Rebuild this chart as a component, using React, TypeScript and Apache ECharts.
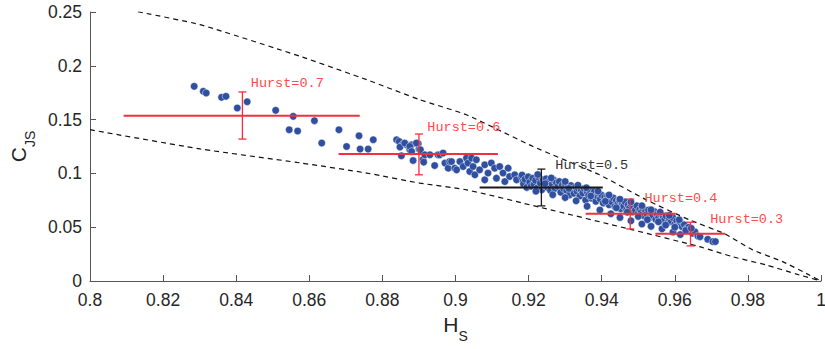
import React, { useEffect, useRef } from "react";
import * as echarts from "echarts";

// ---- data ----
const xTicks = [0.8, 0.82, 0.84, 0.86, 0.88, 0.9, 0.92, 0.94, 0.96, 0.98, 1];
const yTicks = [0, 0.05, 0.1, 0.15, 0.2, 0.25];

const scatterPoints: [number, number][] = [
  [0.8285, 0.1809], [0.8310, 0.1763], [0.8318, 0.1747], [0.8360, 0.1707], [0.8372, 0.1716],
  [0.8403, 0.1608], [0.8430, 0.1666], [0.8508, 0.1586], [0.8556, 0.1530], [0.8545, 0.1406],
  [0.8568, 0.1394], [0.8614, 0.1490], [0.8681, 0.1406], [0.8634, 0.1282], [0.8702, 0.1250],
  [0.8736, 0.1350], [0.8775, 0.1313], [0.8739, 0.1226], [0.8761, 0.1226],
  [0.8839, 0.1313], [0.8846, 0.1297], [0.8857, 0.1275], [0.8848, 0.1245], [0.8866, 0.1266],
  [0.8875, 0.1220], [0.8880, 0.1266], [0.8852, 0.1164], [0.8884, 0.1120], [0.8898, 0.1275],
  [0.8900, 0.1226], [0.8893, 0.1282], [0.8861, 0.1282], [0.8875, 0.1251], [0.8880, 0.1204],
  [0.8904, 0.1220], [0.8911, 0.1127], [0.8913, 0.1105], [0.8916, 0.1173], [0.8930, 0.1173],
  [0.8943, 0.1073], [0.8952, 0.1173], [0.8957, 0.1173], [0.8966, 0.1189], [0.8971, 0.1096],
  [0.8980, 0.1049], [0.8984, 0.1110], [0.8989, 0.1110], [0.8998, 0.1049], [0.9003, 0.1033],
  [0.9012, 0.1110], [0.9021, 0.1064], [0.9030, 0.1142], [0.9034, 0.1096], [0.9039, 0.1018],
  [0.9044, 0.1142], [0.9048, 0.1064], [0.9053, 0.0987], [0.9057, 0.1127], [0.9066, 0.1033],
  [0.9080, 0.1080], [0.9080, 0.0940], [0.9089, 0.1003], [0.9098, 0.1096], [0.9107, 0.1049],
  [0.9112, 0.0956], [0.9121, 0.1064], [0.9130, 0.1003], [0.9135, 0.0924], [0.9144, 0.1049],
  [0.9148, 0.0971], [0.9162, 0.0987], [0.9167, 0.0940], [0.9180, 0.0971], [0.9185, 0.0924],
  [0.9194, 0.0956], [0.9198, 0.0894],
  [0.9182, 0.0985], [0.9186, 0.0902], [0.9190, 0.0945], [0.9195, 0.0870], [0.9199, 0.0968],
  [0.9203, 0.0918], [0.9207, 0.0880], [0.9211, 0.0955], [0.9215, 0.0897], [0.9219, 0.0935],
  [0.9223, 0.0862], [0.9228, 0.0962], [0.9232, 0.0910], [0.9236, 0.0848], [0.9240, 0.0940],
  [0.9244, 0.0885], [0.9248, 0.0950], [0.9252, 0.0868], [0.9256, 0.0925], [0.9260, 0.0840],
  [0.9264, 0.0902], [0.9268, 0.0940], [0.9272, 0.0860], [0.9276, 0.0912], [0.9280, 0.0878],
  [0.9284, 0.0925], [0.9288, 0.0825], [0.9292, 0.0890], [0.9296, 0.0858], [0.9300, 0.0905],
  [0.9304, 0.0842], [0.9308, 0.0872], [0.9312, 0.0800], [0.9316, 0.0888], [0.9320, 0.0852],
  [0.9324, 0.0815], [0.9328, 0.0872], [0.9332, 0.0835], [0.9336, 0.0860], [0.9340, 0.0790],
  [0.9344, 0.0845], [0.9348, 0.0818], [0.9352, 0.0860], [0.9356, 0.0752], [0.9360, 0.0828],
  [0.9364, 0.0798], [0.9368, 0.0840], [0.9372, 0.0770], [0.9376, 0.0810], [0.9380, 0.0832],
  [0.9384, 0.0740], [0.9388, 0.0790], [0.9392, 0.0815], [0.9396, 0.0762], [0.9400, 0.0798],
  [0.9404, 0.0725], [0.9408, 0.0778], [0.9412, 0.0750], [0.9416, 0.0790], [0.9420, 0.0708],
  [0.9424, 0.0762], [0.9428, 0.0735], [0.9432, 0.0772], [0.9436, 0.0692], [0.9440, 0.0748],
  [0.9444, 0.0715], [0.9448, 0.0752], [0.9452, 0.0672], [0.9456, 0.0725], [0.9460, 0.0695],
  [0.9464, 0.0735], [0.9468, 0.0660], [0.9472, 0.0708], [0.9476, 0.0678], [0.9480, 0.0718],
  [0.9484, 0.0642], [0.9488, 0.0690], [0.9492, 0.0660], [0.9496, 0.0700], [0.9500, 0.0630],
  [0.9504, 0.0665], [0.9508, 0.0640], [0.9512, 0.0678], [0.9516, 0.0605], [0.9520, 0.0652],
  [0.9524, 0.0622], [0.9528, 0.0660], [0.9532, 0.0590], [0.9536, 0.0635], [0.9540, 0.0608],
  [0.9544, 0.0645], [0.9548, 0.0572], [0.9552, 0.0618], [0.9556, 0.0590], [0.9560, 0.0625],
  [0.9564, 0.0558], [0.9568, 0.0598], [0.9572, 0.0570], [0.9576, 0.0605], [0.9580, 0.0540],
  [0.9585, 0.0580], [0.9590, 0.0552], [0.9595, 0.0588], [0.9600, 0.0528],
  [0.9605, 0.0560], [0.9610, 0.0525], [0.9615, 0.0545], [0.9620, 0.0505], [0.9626, 0.0522],
  [0.9632, 0.0488], [0.9638, 0.0500], [0.9643, 0.0468], [0.9649, 0.0444], [0.9655, 0.0458],
  [0.9663, 0.0419], [0.9669, 0.0412], [0.9690, 0.0388], [0.9704, 0.0366], [0.9711, 0.0366],
  [0.9225, 0.0990], [0.9262, 0.0958], [0.9300, 0.0925], [0.9335, 0.0890], [0.9358, 0.0866],
  [0.9390, 0.0835], [0.9420, 0.0800], [0.9450, 0.0760], [0.9480, 0.0735], [0.9510, 0.0700],
  [0.9535, 0.0662], [0.9560, 0.0640], [0.9585, 0.0610], [0.9612, 0.0570],
  [0.9220, 0.0835], [0.9266, 0.0802], [0.9300, 0.0775], [0.9330, 0.0745], [0.9360, 0.0695],
  [0.9395, 0.0660], [0.9425, 0.0625], [0.9450, 0.0590], [0.9480, 0.0560], [0.9510, 0.0530],
  [0.9535, 0.0508], [0.9565, 0.0485], [0.9595, 0.0455], [0.9615, 0.0432],
  [0.9245, 0.0905], [0.9310, 0.0860], [0.9370, 0.0790], [0.9410, 0.0740], [0.9440, 0.0680],
  [0.9470, 0.0640], [0.9500, 0.0600], [0.9525, 0.0570], [0.9555, 0.0550], [0.9575, 0.0520],
  [0.9600, 0.0500], [0.9630, 0.0470], [0.9645, 0.0490],
];

const upperCurve: [number, number][] = [
  [0.8131, 0.2502], [0.8301, 0.2383], [0.8575, 0.2088], [0.8757, 0.1871], [0.8902, 0.1685],
  [0.9030, 0.1545], [0.9212, 0.1250], [0.9394, 0.0987], [0.9522, 0.0754], [0.9640, 0.0568],
  [0.9736, 0.0440], [0.9813, 0.0289], [0.9895, 0.0180], [0.9968, 0.0056], [1.0, 0.0],
];

const lowerCurve: [number, number][] = [
  [0.8, 0.1406], [0.8301, 0.1228], [0.8575, 0.1098], [0.8757, 0.1003], [0.8902, 0.0910],
  [0.9030, 0.0847], [0.9230, 0.0686], [0.9485, 0.0475], [0.9667, 0.0319], [0.9758, 0.0226],
  [0.9850, 0.0149], [0.9941, 0.0056], [1.0, 0.0],
];

const hurstLabels = ["Hurst=0.7", "Hurst=0.6", "Hurst=0.5", "Hurst=0.4", "Hurst=0.3"];
const centerH = [0.8417, 0.8900, 0.9235, 0.9478, 0.9643];
const centerC = [0.1536, 0.1180, 0.0869, 0.0624, 0.0440];
const hLow = [0.8092, 0.8680, 0.9066, 0.9356, 0.9547];
const hHigh = [0.8738, 0.9116, 0.9403, 0.9602, 0.9738];
const cLow = [0.1319, 0.0987, 0.0698, 0.0484, 0.0326];
const cHigh = [0.1757, 0.1366, 0.1040, 0.0761, 0.0546];
const labelH = [0.8440, 0.8923, 0.9273, 0.9517, 0.9697];
const labelC = [0.1834, 0.1422, 0.1071, 0.0770, 0.0574];
const barColors = ["#f0303c", "#f0303c", "#1a1a1a", "#f0303c", "#f0303c"];
const labelColors = ["#ff4a4a", "#ff4a4a", "#333333", "#ff4a4a", "#ff4a4a"];

export default function App() {
  const ref = useRef<HTMLDivElement>(null);

  useEffect(() => {
    if (!ref.current) return;
    const chart = echarts.init(ref.current, null, { renderer: "svg" });

    const errData = centerH.map((h, i) => [h, centerC[i], hLow[i], hHigh[i], cLow[i], cHigh[i], labelH[i], labelC[i]]);

    const axisFont = "'Liberation Sans', Arial, Helvetica, sans-serif";

    const option: any = {
      animation: false,
      backgroundColor: "#ffffff",
      grid: { left: 90, right: 4, top: 12, bottom: 68, containLabel: false, outerBoundsMode: "none" },
      xAxis: {
        type: "value",
        min: 0.8,
        max: 1,
        interval: 0.02,
        name: "{m|H}{s|S}",
        nameLocation: "middle",
        nameGap: 30,
        nameTextStyle: {
          rich: {
            m: { fontSize: 21, fontFamily: axisFont, color: "#262626", verticalAlign: "top", padding: [0, 0, 8, 0] },
            s: { fontSize: 14, fontFamily: axisFont, color: "#262626", verticalAlign: "bottom" },
          },
        },
        axisLine: { show: true, lineStyle: { color: "#555555", width: 1 } },
        axisTick: { show: true, inside: true, length: 6, lineStyle: { color: "#555555" } },
        axisLabel: {
          fontSize: 17.5,
          fontFamily: axisFont,
          color: "#262626",
          margin: 10,
          formatter: (v: number) => {
            const t = xTicks.find((x) => Math.abs(x - v) < 1e-9);
            return t === undefined ? "" : String(t);
          },
        },
        splitLine: { show: false },
      },
      yAxis: {
        type: "value",
        min: 0,
        max: 0.25,
        interval: 0.05,
        name: "{m|C}{s|JS}",
        nameLocation: "middle",
        nameRotate: 90,
        nameGap: 50,
        nameTextStyle: {
          rich: {
            m: { fontSize: 21, fontFamily: axisFont, color: "#262626", verticalAlign: "top", padding: [0, 0, 8, 0] },
            s: { fontSize: 14, fontFamily: axisFont, color: "#262626", verticalAlign: "bottom" },
          },
        },
        axisLine: { show: true, lineStyle: { color: "#555555", width: 1 } },
        axisTick: { show: true, inside: true, length: 6, lineStyle: { color: "#555555" } },
        axisLabel: {
          fontSize: 17.5,
          fontFamily: axisFont,
          color: "#262626",
          margin: 8,
          formatter: (v: number) => {
            const t = yTicks.find((y) => Math.abs(y - v) < 1e-9);
            return t === undefined ? "" : String(t);
          },
        },
        splitLine: { show: false },
      },
      series: [
        {
          type: "scatter",
          data: scatterPoints,
          symbol: "circle",
          symbolSize: 7.5,
          z: 2,
          itemStyle: { color: "#2f4fa0", borderColor: "rgba(255,255,255,0.75)", borderWidth: 0.6, opacity: 1 },
        },
        {
          type: "line",
          data: upperCurve,
          showSymbol: false,
          symbol: "none",
          smooth: 0.15,
          z: 3,
          lineStyle: { color: "#111111", width: 1.2, type: [5, 4] },
        },
        {
          type: "line",
          data: lowerCurve,
          showSymbol: false,
          symbol: "none",
          smooth: 0.25,
          z: 3,
          lineStyle: { color: "#111111", width: 1.2, type: [5, 4] },
        },
        {
          type: "custom",
          z: 4,
          data: errData,
          encode: { x: [0, 2, 3], y: [1, 4, 5] },
          renderItem: (params: any, api: any) => {
            const i = params.dataIndex;
            const h = api.value(0);
            const c = api.value(1);
            const pl = api.coord([api.value(2), c]);
            const ph = api.coord([api.value(3), c]);
            const pb = api.coord([h, api.value(4)]);
            const pt = api.coord([h, api.value(5)]);
            const lp = api.coord([api.value(6), api.value(7)]);
            const col = barColors[i];
            const cap = 4;
            return {
              type: "group",
              children: [
                { type: "line", shape: { x1: pl[0], y1: pl[1], x2: ph[0], y2: ph[1] }, style: { stroke: col, lineWidth: 2 } },
                { type: "line", shape: { x1: pt[0], y1: pt[1], x2: pb[0], y2: pb[1] }, style: { stroke: col, lineWidth: 1.3 } },
                { type: "line", shape: { x1: pt[0] - cap, y1: pt[1], x2: pt[0] + cap, y2: pt[1] }, style: { stroke: col, lineWidth: 1.3 } },
                { type: "line", shape: { x1: pb[0] - cap, y1: pb[1], x2: pb[0] + cap, y2: pb[1] }, style: { stroke: col, lineWidth: 1.3 } },
                {
                  type: "text",
                  x: lp[0],
                  y: lp[1],
                  style: {
                    text: hurstLabels[i],
                    fill: labelColors[i],
                    font: "13.5px 'Liberation Mono', 'Courier New', monospace",
                    align: "left",
                    verticalAlign: "middle",
                    textAlign: "left",
                    textVerticalAlign: "middle",
                  },
                },
              ],
            };
          },
        },
      ],
    };

    chart.setOption(option);
    return () => chart.dispose();
  }, []);

  return (
    <div
      ref={ref}
      style={{ position: "fixed", left: 0, top: 0, width: 825, height: 349, background: "#fff" }}
    />
  );
}
